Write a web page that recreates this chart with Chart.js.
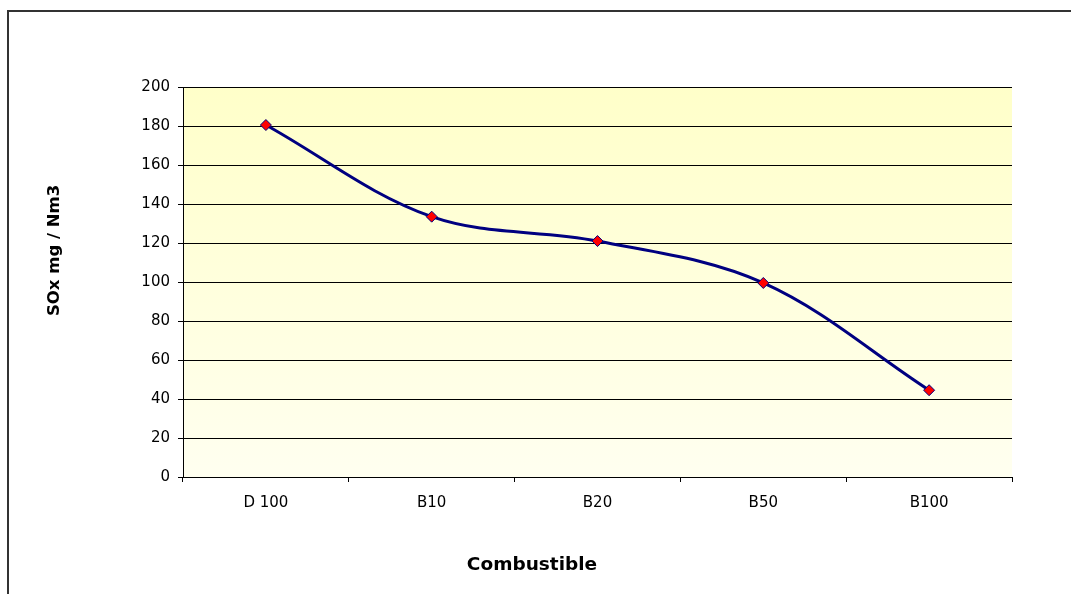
<!DOCTYPE html>
<html>
<head>
<meta charset="utf-8">
<script src="https://cdn.jsdelivr.net/npm/chart.js@4/dist/chart.umd.min.js"></script>
<style>
  html, body { margin: 0; padding: 0; background: #fff; }
  #wrap { width: 1071px; height: 594px; }
</style>
</head>
<body>
<div id="wrap"><canvas id="soxChart" width="1071" height="594"></canvas></div>
<script>
var categories = ['D 100', 'B10', 'B20', 'B50', 'B100'];
var soxValues = [180.5, 133.5, 121, 99.5, 44.5];
var yTicks = [0, 20, 40, 60, 80, 100, 120, 140, 160, 180, 200];

var fontFamily = "'DejaVu Sans', Verdana, sans-serif";

// outer frame (top and left edges only) and plot gradient
var framePlugin = {
    id: 'frame',
    beforeDraw: function(chart){
        var ctx = chart.ctx;
        var area = chart.chartArea;
        ctx.save();
        ctx.fillStyle = '#ffffff';
        ctx.fillRect(0, 0, chart.width, chart.height);
        var grad = ctx.createLinearGradient(0, area.top, 0, area.bottom);
        grad.addColorStop(0, '#ffffc9');
        grad.addColorStop(1, '#fffff0');
        ctx.fillStyle = grad;
        ctx.fillRect(area.left, area.top, area.right - area.left, area.bottom - area.top);
        ctx.strokeStyle = '#333333';
        ctx.lineWidth = 2;
        ctx.beginPath();
        ctx.moveTo(8, chart.height);
        ctx.lineTo(8, 11);
        ctx.lineTo(chart.width, 11);
        ctx.stroke();
        ctx.restore();
    }
};

var chart = new Chart(document.getElementById('soxChart').getContext('2d'), {
    type: 'line',
    data: {
        labels: categories,
        datasets: [{
            label: 'SOx',
            data: soxValues,
            borderColor: '#000080',
            borderWidth: 3,
            tension: 0.35,
            pointStyle: 'rectRot',
            pointRadius: 5.5,
            pointBackgroundColor: '#ff0000',
            pointBorderColor: '#000080',
            pointBorderWidth: 1
        }]
    },
    options: {
        responsive: false,
        animation: false,
        layout: { padding: { top: 87, right: 7, left: 0, bottom: 0 } },
        plugins: {
            legend: { display: false },
            tooltip: { enabled: false },
            // x axis title, centred on the whole chart like the original
            title: {
                display: true,
                position: 'bottom',
                text: 'Combustible',
                color: '#000000',
                padding: { top: 0.8, bottom: 18 },
                font: { family: fontFamily, size: 18.5, weight: 'bold' }
            }
        },
        scales: {
            x: {
                offset: true,
                grid: { offset: true, drawOnChartArea: false, color: '#000000', tickLength: 5 },
                border: { color: '#000000', width: 1 },
                ticks: { color: '#000000', padding: 12, font: { family: fontFamily, size: 15 } },
                afterFit: function(scale){ scale.height = 76; }
            },
            y: {
                min: 0,
                max: 200,
                afterBuildTicks: function(scale){
                    scale.ticks = yTicks.map(function(v){ return { value: v }; });
                },
                grid: { color: '#000000', tickLength: 5 },
                border: { color: '#000000', width: 1 },
                ticks: { color: '#000000', padding: 8, font: { family: fontFamily, size: 15 } },
                title: {
                    display: true,
                    // leading spaces lift the title a little, as in the original
                    text: '           SOx mg / Nm3',
                    color: '#000000',
                    padding: { top: 45, bottom: 0 },
                    font: { family: fontFamily, size: 16.5, weight: 'bold' }
                },
                afterFit: function(scale){ scale.width = 183; }
            },
            yRight: {
                position: 'right',
                min: 0,
                max: 200,
                grid: { display: false },
                border: { display: false },
                ticks: { display: false },
                afterFit: function(scale){ scale.width = 52; }
            }
        }
    },
    plugins: [framePlugin]
});
</script>
</body>
</html>
